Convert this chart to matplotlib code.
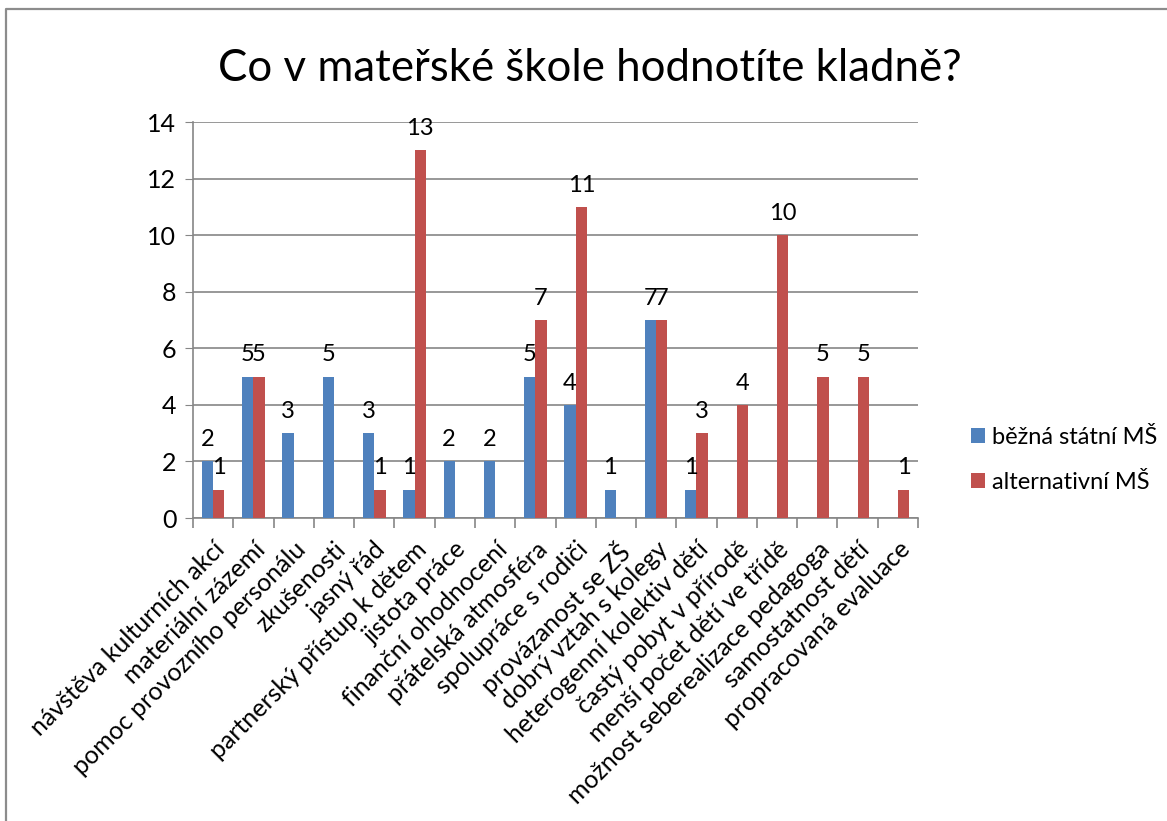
import matplotlib.pyplot as plt
from matplotlib.lines import Line2D
import numpy as np

plt.rcParams['font.family'] = ['Lato', 'DejaVu Sans']

categories = ['návštěva kulturních akcí', 'materiální zázemí', 'pomoc provozního personálu',
              'zkušenosti', 'jasný řád', 'partnerský přístup k dětem', 'jistota práce',
              'finanční ohodnocení', 'přátelská atmosféra', 'spolupráce s rodiči',
              'provázanost se ZŠ', 'dobrý vztah s kolegy', 'heterogenní kolektiv dětí',
              'častý pobyt v přírodě', 'menší počet dětí ve třídě',
              'možnost seberealizace pedagoga', 'samostatnost dětí', 'propracovaná evaluace']
bezna = [2, 5, 3, 5, 3, 1, 2, 2, 5, 4, 1, 7, 1, 0, 0, 0, 0, 0]
alternativni = [1, 5, 0, 0, 1, 13, 0, 0, 7, 11, 0, 7, 3, 4, 10, 5, 5, 1]
series_names = ['běžná státní MŠ', 'alternativní MŠ']

W, H = 1167, 821
fig = plt.figure(figsize=(W / 100, H / 100), dpi=100)
ax = fig.add_axes([193 / W, 1 - 518 / H, 725 / W, 396 / H])

x = np.arange(len(categories))
w = 0.28
b1 = ax.bar(x - w / 2, bezna, w, color='#4f81bd', label=series_names[0], zorder=3)
b2 = ax.bar(x + w / 2, alternativni, w, color='#c0504d', label=series_names[1], zorder=3)

# popisky hodnot (nuly se nezobrazuji)
for bars, vals in ((b1, bezna), (b2, alternativni)):
    for bar, v in zip(bars, vals):
        if v:
            ax.text(bar.get_x() + bar.get_width() / 2, v + 0.4, str(v),
                    ha='center', va='bottom', fontsize=17)

ax.set_xlim(-0.5, len(categories) - 0.5)
ax.set_ylim(0, 14)
ax.set_yticks(range(0, 15, 2))
ax.tick_params(axis='y', labelsize=18, length=6, color='#868686', pad=6)
ax.yaxis.grid(True, color='#868686', linewidth=1.2, zorder=0)

ax.set_xticks(np.arange(len(categories) + 1) - 0.5, minor=True)
ax.set_xticks(x)
ax.set_xticklabels(categories, rotation=45, ha='right', rotation_mode='anchor', fontsize=18)
ax.tick_params(axis='x', which='major', length=0, pad=14)
ax.tick_params(axis='x', which='minor', length=7, color='#868686', width=1.2)

for side in ('top', 'right'):
    ax.spines[side].set_visible(False)
for side in ('left', 'bottom'):
    ax.spines[side].set_color('#868686')
    ax.spines[side].set_linewidth(1.2)

fig.text(590 / W, 1 - 68 / H, 'Co v mateřské škole hodnotíte kladně?',
         ha='center', va='center', fontsize=31.5)

fig.legend(handles=[b1, b2], loc='center left', bbox_to_anchor=(950 / W, 1 - 460 / H),
           frameon=False, fontsize=17, handlelength=0.6, handleheight=0.6,
           labelspacing=1.0, handletextpad=0.3)

# okraj grafu jen vlevo a nahoře (zbytek je oříznutý)
fig.add_artist(Line2D([6 / W, 6 / W, 1], [0, 1 - 9 / H, 1 - 9 / H],
                      transform=fig.transFigure, color='#8c8c8c', linewidth=1.6))

fig.savefig('out.png', dpi=100)
